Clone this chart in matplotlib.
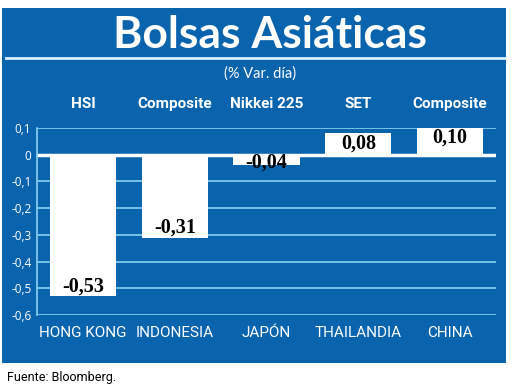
import matplotlib
matplotlib.use("Agg")
import matplotlib.pyplot as plt
from matplotlib.patches import Rectangle
from matplotlib.lines import Line2D

countries = ["HONG KONG", "INDONESIA", "JAPÓN", "THAILANDIA", "CHINA"]
indices = ["HSI", "Composite", "Nikkei 225", "SET", "Composite"]
values = [-0.53, -0.31, -0.04, 0.08, 0.10]
value_labels = ["-0,53", "-0,31", "-0,04", "0,08", "0,10"]
yticks = [0.1, 0, -0.1, -0.2, -0.3, -0.4, -0.5, -0.6]
ytick_labels = ["0,1", "0", "-0,1", "-0,2", "-0,3", "-0,4", "-0,5", "-0,6"]

BLUE = "#0a63ad"
GRID = "#8ad2f2"
NARROW = ["Roboto", "DejaVu Sans"]

W, H = 520, 392
fig = plt.figure(figsize=(W / 100, H / 100), dpi=100)
fig.patch.set_facecolor("white")

# blue panel
fig.patches.append(Rectangle((2 / W, 1 - 363 / H), 504 / W, 355 / H,
                             transform=fig.transFigure, facecolor=BLUE,
                             edgecolor="none", zorder=-5))
# title
fig.text(270 / W, 1 - 35 / H, "Bolsas Asiáticas", color="white",
         fontsize=32, fontweight="bold", family=["Lato", "DejaVu Sans"],
         ha="center", va="center")
fig.lines.append(Line2D([6 / W, 505 / W], [1 - 58 / H, 1 - 58 / H],
                        transform=fig.transFigure, color="#d8f2ff", lw=2))
fig.text(260 / W, 1 - 74 / H, "(% Var. día)", color="white", fontsize=10.5,
         family=["Lato", "DejaVu Sans"], ha="center", va="center")

ax = fig.add_axes([37 / W, 1 - 315 / H, (496 - 37) / W, (315 - 128) / H])
ax.set_zorder(2)
ax.set_facecolor("none")
x = list(range(len(values)))
ax.bar(x, values, width=0.72, color="white", zorder=3)
ax.set_xlim(-0.5, 4.5)
ax.set_ylim(-0.6, 0.1)
for t in yticks:
    if t == 0:
        ax.axhline(t, color="white", lw=2.5, zorder=2)
    else:
        ax.axhline(t, color=GRID, lw=1.2, zorder=1)
ax.set_yticks(yticks)
ax.set_yticklabels(ytick_labels, color="white", fontsize=8.5,
                   family=["Open Sans", "DejaVu Sans"])
ax.tick_params(axis="y", length=0, pad=4)
ax.set_xticks(x)
ax.set_xticklabels(countries, color="white", fontsize=11, family=NARROW)
ax.tick_params(axis="x", length=0, pad=8)
for s in ["top", "right", "bottom"]:
    ax.spines[s].set_visible(False)
ax.spines["left"].set_color(GRID)
ax.spines["left"].set_linewidth(1.2)

for xi, v, lab in zip(x, values, value_labels):
    if abs(v) < 0.06:
        yc = v + 0.01
    else:
        yc = v + (0.037 if v < 0 else -0.037)
    ax.text(xi, yc, lab, ha="center", va="center", fontsize=14.5,
            fontweight="bold", family=["Liberation Serif", "DejaVu Serif"],
            color="black", zorder=5)

for xi, name in zip(x, indices):
    ax.annotate(name, xy=(xi, 0.1), xycoords="data", xytext=(0, 17),
                textcoords="offset points", ha="center", va="center",
                color="white", fontsize=11, fontweight="bold",
                family=NARROW, annotation_clip=False)

fig.text(7 / W, 1 - 377 / H, "Fuente: Bloomberg.", color="black",
         fontsize=9, family=NARROW, ha="left", va="center")

fig.savefig("out.png", dpi=100, facecolor="white")
